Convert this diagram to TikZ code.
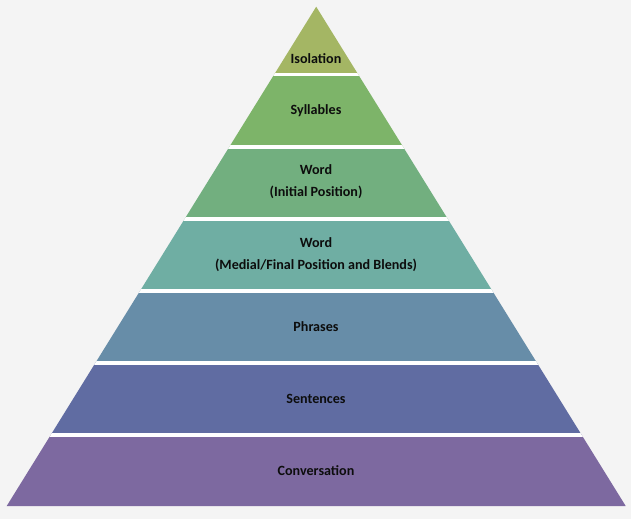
\documentclass[tikz,border=0pt]{standalone}
\usepackage{fontspec}
\setmainfont{Carlito}
\definecolor{bg}{RGB}{244,244,244}
\definecolor{cIso}{RGB}{164,182,100}
\definecolor{cSyl}{RGB}{125,180,105}
\definecolor{cWi}{RGB}{114,175,127}
\definecolor{cWm}{RGB}{111,174,163}
\definecolor{cPh}{RGB}{103,141,168}
\definecolor{cSe}{RGB}{96,108,162}
\definecolor{cCo}{RGB}{125,105,160}
\tikzset{lbl/.style={font=\fontsize{14.1}{22}\selectfont\bfseries, text=black!95, align=center, inner sep=0pt},
gap/.style={draw=white, line width=3.5pt}}
\begin{document}
\begin{tikzpicture}[x=1pt,y=-1pt]
\fill[bg] (0,0) rectangle (631,519);
\useasboundingbox (0,0) rectangle (631,519);
\coordinate (apex) at (316.2,6.7);
\coordinate (bl) at (6.7,506);
\coordinate (br) at (625.7,506);
\begin{scope}
\clip (apex) -- (br) -- (bl) -- cycle;
\fill[cIso] (0,0) rectangle (631,74.5);
\fill[cSyl] (0,74.5) rectangle (631,147);
\fill[cWi] (0,147) rectangle (631,219);
\fill[cWm] (0,219) rectangle (631,291);
\fill[cPh] (0,291) rectangle (631,363);
\fill[cSe] (0,363) rectangle (631,435);
\fill[cCo] (0,435) rectangle (631,519);
\foreach \y in {74.5,147,219,291,363,435}{\draw[gap] (0,\y) -- (631,\y);}
\end{scope}
\node[lbl] (iso) at (316,59) {Isolation};
\node[lbl] (syl) at (316,110.5) {Syllables};
\node[lbl] (wi) at (316,182) {Word\\(Initial Position)};
\node[lbl] (wm) at (316,255) {Word\\(Medial/Final Position and Blends)};
\node[lbl] (ph) at (316,327) {Phrases};
\node[lbl] (se) at (316,399) {Sentences};
\node[lbl] (co) at (316,471) {Conversation};
\end{tikzpicture}
\end{document}
